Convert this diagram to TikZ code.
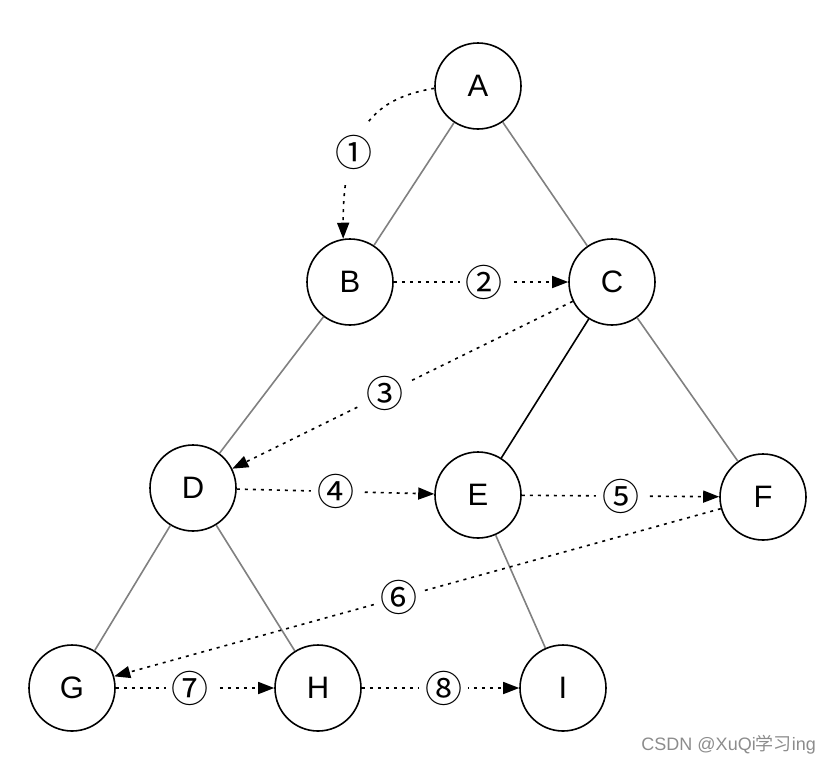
\documentclass[tikz,border=0pt]{standalone}
\usepackage{fontspec}
\setmainfont{Liberation Sans}
\newfontfamily\cjkfont{Noto Sans CJK SC}
\usetikzlibrary{arrows.meta}
\tikzset{
  vert/.style={circle, draw=black, line width=1.6pt, minimum size=86pt, inner sep=0pt, font=\fontsize{31}{31}\selectfont},
  treeedge/.style={draw=black!50, line width=1.6pt},
  treeedgedark/.style={draw=black, line width=1.6pt},
  orderarrow/.style={draw=black, line width=1.6pt, dash pattern=on 3pt off 5pt, -{Triangle[length=16pt,width=12pt]}},
  numlabel/.style={fill=white, inner sep=6pt, font=\cjkfont\fontsize{37}{37}\selectfont},
}
\begin{document}
\begin{tikzpicture}[x=1pt,y=-1pt]
\useasboundingbox (0,0) rectangle (832,764);
\node[vert] (A) at (478,86) {A};
\node[vert] (B) at (350,282) {B};
\node[vert] (C) at (612,282) {C};
\node[vert] (D) at (193,488) {D};
\node[vert] (E) at (478,495) {E};
\node[vert] (F) at (763,497) {F};
\node[vert] (G) at (72,688) {G};
\node[vert] (H) at (318,688) {H};
\node[vert] (I) at (563,688) {I};
\draw[treeedge] (A) -- (B);
\draw[treeedge] (A) -- (C);
\draw[treeedge] (B) -- (D);
\draw[treeedgedark] (C) -- (E);
\draw[treeedge] (C) -- (F);
\draw[treeedge] (D) -- (G);
\draw[treeedge] (D) -- (H);
\draw[treeedge] (E) -- (I);
\draw[orderarrow] (A.183) .. controls (385,97) and (343,118) .. (B.99) node[numlabel, pos=0.69, inner ysep=13pt] (n1) {①};
\draw[orderarrow] (B) -- (C) node[numlabel, pos=0.52] (n2) {②};
\draw[orderarrow] (C) -- (D) node[numlabel, pos=0.55] (n3) {③};
\draw[orderarrow] (D) -- (E) node[numlabel, pos=0.5] (n4) {④};
\draw[orderarrow] (E) -- (F) node[numlabel, pos=0.5] (n5) {⑤};
\draw[orderarrow] (F) -- (G) node[numlabel, pos=0.53] (n6) {⑥};
\draw[orderarrow] (G) -- (H) node[numlabel, pos=0.47] (n7) {⑦};
\draw[orderarrow] (H) -- (I) node[numlabel, pos=0.52] (n8) {⑧};
\node[text=black!45, font=\fontsize{18}{18}\selectfont, anchor=east, inner sep=0pt] (wm) at (816,745) {CSDN @XuQi{\cjkfont 学习}ing};
\end{tikzpicture}
\end{document}
